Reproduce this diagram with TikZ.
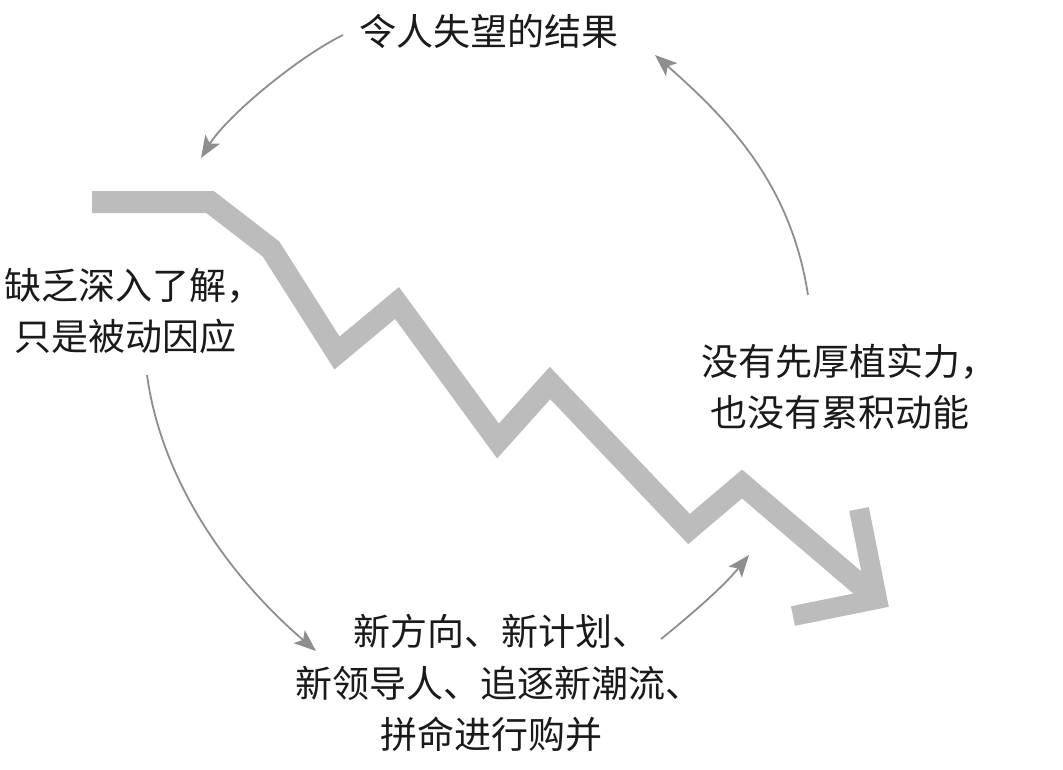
\documentclass[tikz,border=0pt]{standalone}
\usepackage{fontspec}
\newfontfamily\cjk{Noto Sans CJK SC}
\usetikzlibrary{arrows.meta}
\definecolor{zgray}{HTML}{BDBCBD}
\definecolor{agray}{HTML}{8E8E8E}
\definecolor{tblack}{HTML}{1A1A1A}
\begin{document}
\begin{tikzpicture}[x=1pt,y=-1pt,
  zig/.style={draw=zgray, line width=22pt, line join=miter, miter limit=12},
  cyc/.style={draw=agray, line width=1.8pt, -{Stealth[length=22pt,width=17pt,inset=5pt]}},
  lbl/.style={font=\cjk\fontsize{37pt}{44pt}\selectfont, text=tblack, inner sep=0pt, anchor=base}]
\useasboundingbox (0,0) rectangle (1063,769);
\fill[white] (0,0) rectangle (1063,769);

% zigzag falling line
\coordinate (z0) at (92,202);
\coordinate (z1) at (210,202);
\coordinate (z2) at (271,249);
\coordinate (z3) at (337,353);
\coordinate (z4) at (397,303);
\coordinate (z5) at (498,441);
\coordinate (z6) at (550,383);
\coordinate (z7) at (689,529);
\coordinate (z8) at (742,484);
\coordinate (tip) at (877,599);
\coordinate (shaftend) at (872,595);
\coordinate (armA) at (859,509);
\coordinate (armB) at (793,616);
\draw[zig] (z0) -- (z1) -- (z2) -- (z3) -- (z4) -- (z5) -- (z6) -- (z7) -- (z8) -- (shaftend);
\draw[zig, line width=20pt] (armA) -- (tip) -- (armB);

% texts
\node[lbl] (top) at (489,45.5) {令人失望的结果};
\node[lbl] (left1) at (134,299) {缺乏深入了解，};
\node[lbl] (left2) at (125,350) {只是被动因应};
\node[lbl] (right1) at (849,375) {没有先厚植实力，};
\node[lbl] (right2) at (840,426) {也没有累积动能};
\node[lbl] (bot1) at (501,645) {新方向、新计划、};
\node[lbl] (bot2) at (498.5,697) {新领导人、追逐新潮流、};
\node[lbl] (bot3) at (491.5,748) {拼命进行购并};

% cycle arrows
\coordinate (a1s) at (343,35);
\coordinate (a1e) at (201,158);
\coordinate (a2s) at (808,295);
\coordinate (a2e) at (655,55);
\coordinate (a3s) at (147,375);
\coordinate (a3e) at (316,651);
\coordinate (a4s) at (661,639);
\coordinate (a4e) at (749,555);
\draw[cyc] (a1s) .. controls (298,57) and (227,116) .. (a1e);
\draw[cyc] (a2s) .. controls (791,185) and (730,121) .. (a2e);
\draw[cyc] (a3s) .. controls (162,484) and (232,579) .. (a3e);
\draw[cyc] (a4s) .. controls (692,614) and (724,586) .. (a4e);
\end{tikzpicture}
\end{document}
